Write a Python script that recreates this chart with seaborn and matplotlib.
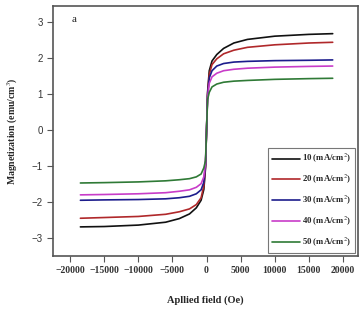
import pandas as pd
import matplotlib.pyplot as plt
import seaborn as sns

field = [-18500, -15000, -10000, -6000, -4000, -2500, -1500, -800, -400, -150,
         0, 150, 400, 800, 1500, 2500, 4000, 6000, 10000, 15000, 18500]

m10 = [-2.69, -2.68, -2.64, -2.56, -2.46, -2.33, -2.16, -1.95, -1.65, -1.05,
       0.0, 1.05, 1.65, 1.92, 2.1, 2.27, 2.42, 2.52, 2.61, 2.66, 2.68]
m20 = [-2.45, -2.43, -2.40, -2.34, -2.27, -2.19, -2.07, -1.88, -1.55, -1.0,
       0.0, 1.0, 1.55, 1.82, 1.98, 2.12, 2.22, 2.3, 2.37, 2.42, 2.44]
m30 = [-1.95, -1.94, -1.93, -1.91, -1.88, -1.84, -1.77, -1.66, -1.45, -0.95,
       0.0, 0.95, 1.45, 1.65, 1.78, 1.85, 1.89, 1.91, 1.93, 1.94, 1.95]
m40 = [-1.80, -1.79, -1.77, -1.74, -1.70, -1.66, -1.59, -1.49, -1.3, -0.9,
       0.0, 0.9, 1.3, 1.48, 1.58, 1.65, 1.69, 1.72, 1.75, 1.77, 1.78]
m50 = [-1.47, -1.46, -1.44, -1.41, -1.38, -1.35, -1.3, -1.22, -1.05, -0.85,
       0.0, 0.85, 1.05, 1.2, 1.28, 1.33, 1.36, 1.38, 1.41, 1.43, 1.44]

labels = ["10 (mA/cm$^2$)", "20 (mA/cm$^2$)", "30 (mA/cm$^2$)",
          "40 (mA/cm$^2$)", "50 (mA/cm$^2$)"]
colors = ["#111111", "#b0282a", "#1c1c8c", "#c83cc8", "#2f7a36"]

frames = []
for lab, vals in zip(labels, [m10, m20, m30, m40, m50]):
    frames.append(pd.DataFrame({"H": field, "M": vals, "J": lab}))
df = pd.concat(frames, ignore_index=True)

sns.set_style("ticks")
plt.rcParams["mathtext.fontset"] = "stix"

fig = plt.figure(figsize=(3.59, 3.13), dpi=100)
ax = fig.add_axes([0.148, 0.182, 0.849, 0.799])

sns.lineplot(data=df, x="H", y="M", hue="J", palette=colors, linewidth=1.2,
             sort=False, estimator=None, ax=ax)

ax.set_xlim(-22500, 22200)
ax.set_ylim(-3.5, 3.45)
ax.set_xticks(range(-20000, 20001, 5000))
ax.set_yticks([-3, -2, -1, 0, 1, 2, 3])

for s in ax.spines.values():
    s.set_color("#555555")
    s.set_linewidth(1.2)
ax.tick_params(direction="out", length=4, width=0.8, color="#555555")

for t in ax.get_xticklabels():
    t.set_fontfamily("Liberation Serif")
    t.set_fontweight("bold")
    t.set_fontsize(7)
    t.set_color("#333333")
for t in ax.get_yticklabels():
    t.set_fontfamily("Liberation Sans")
    t.set_fontsize(7)
    t.set_color("#333333")

ax.set_xlabel("Apllied field (Oe)", fontfamily="Liberation Serif",
              fontweight="bold", fontsize=7.5, labelpad=14)
ax.set_ylabel("Magnetization (emu/cm$^3$)", fontfamily="Liberation Serif",
              fontweight="bold", fontsize=7, labelpad=8)

ax.text(0.062, 0.944, "a", transform=ax.transAxes,
        fontfamily="Liberation Serif", fontsize=8, va="center")

leg = ax.legend(loc="lower right",
                prop={"family": "Liberation Serif", "size": 6.3, "weight": "bold"},
                handlelength=3.2, handletextpad=0.2, labelspacing=0.9,
                fancybox=False, borderpad=0.5, borderaxespad=0.3)
leg.get_frame().set_edgecolor("#555555")
leg.get_frame().set_linewidth(0.8)

fig.savefig("out.png", dpi=100)
